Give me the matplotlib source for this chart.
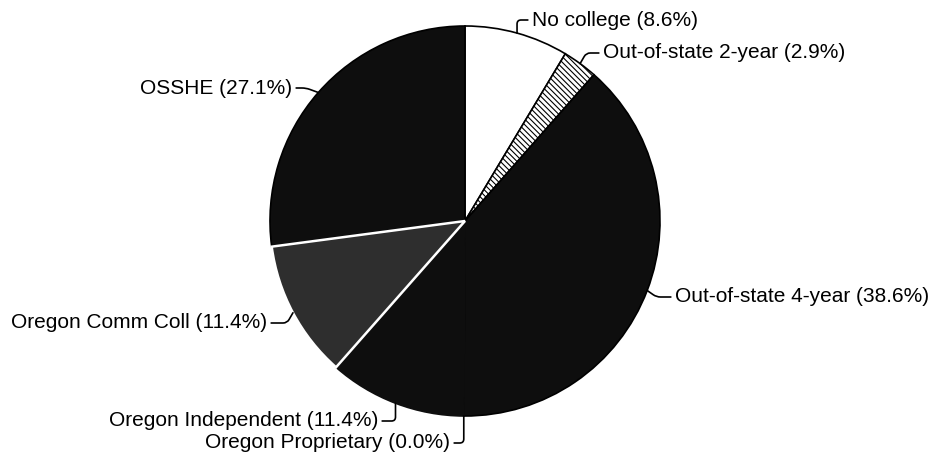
import numpy as np
import matplotlib
matplotlib.use('Agg')
import matplotlib.pyplot as plt

plt.rcParams['font.family'] = ['Liberation Sans', 'DejaVu Sans']
plt.rcParams['hatch.linewidth'] = 0.8

# slices in clockwise order from 12 o'clock
categories = ['No college', 'Out-of-state 2-year', 'Out-of-state 4-year',
              'Oregon Proprietary', 'Oregon Independent', 'Oregon Comm Coll', 'OSSHE']
percents = [8.6, 2.9, 38.6, 0.0, 11.4, 11.4, 27.1]

# figure is laid out in pixel units (y counted from the bottom)
W, H = 930, 457
cx, cy, r = 465, H - 221, 195

fills = ['white', 'white', '#0e0e0e', '#0e0e0e', '#0e0e0e', '#2e2e2e', '#0e0e0e']
edges = ['black', 'black', 'black', '#0e0e0e', '#0e0e0e', 'white', 'black']

# label placement: (x, y from top, ha, angleB of leader)
label_pos = [
    (532, 20, 'left', 90),
    (603, 53, 'left', 60),
    (675, 297, 'left', -35),
    (450, 443, 'right', 90),
    (378, 421, 'right', 90),
    (267, 323, 'right', 60),
    (292, 88, 'right', -20),
]

fig = plt.figure(figsize=(W / 100, H / 100), dpi=100)
ax = fig.add_axes([0, 0, 1, 1])

wedges, _ = ax.pie(percents, startangle=90, counterclock=False, center=(cx, cy),
                   radius=r, colors=fills,
                   wedgeprops=dict(linewidth=1.2))
for w, ec in zip(wedges, edges):
    w.set_edgecolor(ec)
wedges[1].set_hatch('\\\\\\\\\\\\')
wedges[5].set_linewidth(1.8)
wedges[5].set_zorder(3)

for w, name, val, (tx, ty, ha, angB) in zip(wedges, categories, percents, label_pos):
    mid = np.deg2rad((w.theta1 + w.theta2) / 2)
    px, py = cx + r * np.cos(mid), cy + r * np.sin(mid)
    relx = 0 if ha == 'left' else 1
    ax.annotate(f'{name} ({val:.1f}%)', xy=(px, py), xytext=(tx, H - ty),
                ha=ha, va='center', fontsize=15, color='black',
                arrowprops=dict(arrowstyle='-', color='black', lw=1.2,
                                shrinkA=1, shrinkB=0, relpos=(relx, 0.5),
                                connectionstyle=f'angle,angleA=0,angleB={angB},rad=4'))

ax.set_xlim(0, W)
ax.set_ylim(0, H)
ax.set_aspect('auto')
ax.axis('off')

fig.savefig('out.png', dpi=100)
